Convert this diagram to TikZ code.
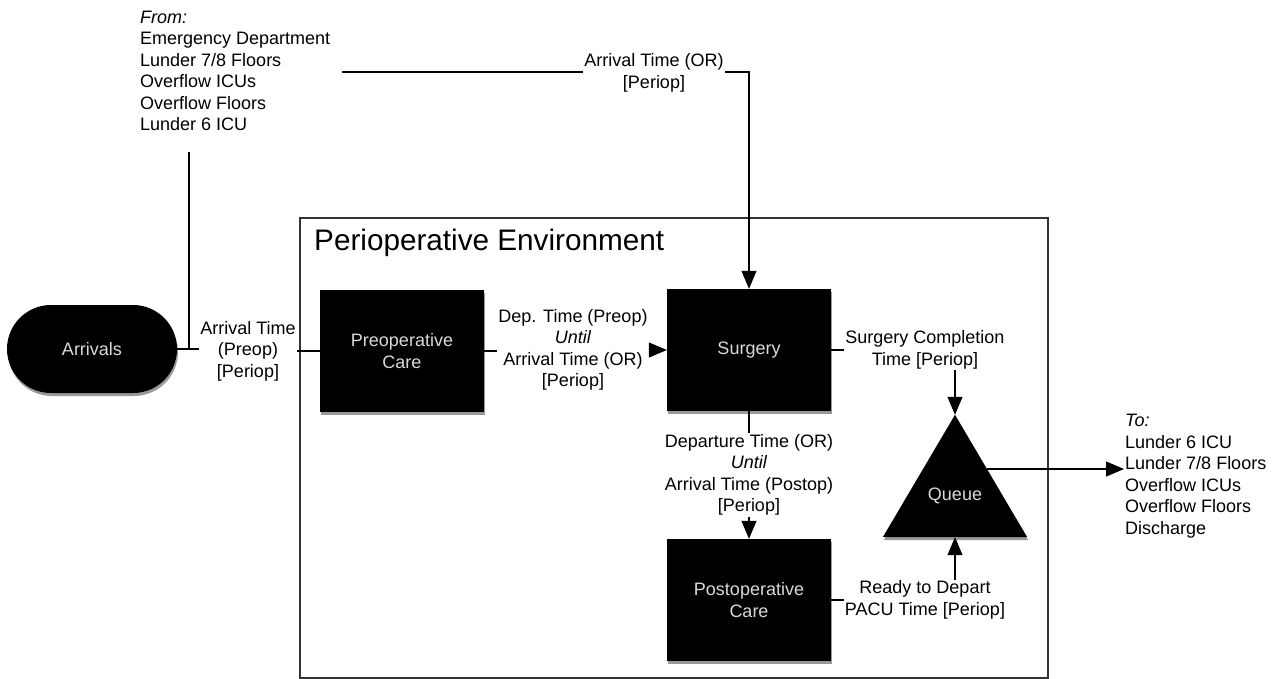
\documentclass[tikz,border=0pt]{standalone}
\usepackage{fontspec}
\setmainfont{Liberation Sans}
\usetikzlibrary{arrows.meta,shadows,calc}
\begin{document}
\begin{tikzpicture}[x=1pt,y=-1pt,
  lbl/.style={font=\fontsize{18}{21.5}\selectfont, align=center, inner sep=1pt},
  blk/.style={fill=black, text=white!85!black, minimum width=164pt, minimum height=122pt,
    font=\fontsize{18}{21.5}\selectfont, align=center,
    drop shadow={shadow xshift=1pt, shadow yshift=-3pt, fill=gray!80, opacity=1}},
  conn/.style={line width=1.1pt},
  arr/.style={conn, -{Triangle[length=18pt,width=15pt]}}]
\useasboundingbox (0,0) rectangle (1275,679);

% environment frame
\node[draw=black!80, line width=1.5pt, minimum width=748pt, minimum height=460pt, inner sep=0pt] (env) at (674,448) {};
\node[anchor=west, inner sep=0pt, font=\fontsize{29.7}{31}\selectfont] (envtitle) at (314,243) {Perioperative Environment};

% main blocks
\node[blk, rounded corners=44pt, minimum width=170pt, minimum height=88pt] (arrivals) at (92,349) {Arrivals};
\node[blk] (preop) at (402,351) {Preoperative\\Care};
\node[blk] (surgery) at (749,350) {Surgery};
\node[blk] (postop) at (749,600) {Postoperative\\Care};

% queue triangle
\node[minimum width=144pt, minimum height=122pt, inner sep=0pt] (queue) at (955,476) {};
\fill[gray!80] ($(queue.north)+(1,3)$) -- ($(queue.south east)+(1,3)$) -- ($(queue.south west)+(1,3)$) -- cycle;
\fill[black] (queue.north) -- (queue.south east) -- (queue.south west) -- cycle;
\node[text=white!85!black, font=\fontsize{18}{21.5}\selectfont] (queuetxt) at ($(queue.center)+(0,20)$) {Queue};

% lists
\node[lbl, align=left, anchor=west] (fromlist) at (139,71) {\textit{From:}\\Emergency Department\\Lunder 7/8 Floors\\Overflow ICUs\\Overflow Floors\\Lunder 6 ICU};
\node[lbl, align=left, anchor=west] (tolist) at (1124,476) {\textit{To:}\\Lunder 6 ICU\\Lunder 7/8 Floors\\Overflow ICUs\\Overflow Floors\\Discharge};

% labels
\node[lbl] (lblpre) at (248,351) {Arrival Time\\(Preop)\\{[Periop]}};
\node[lbl] (lbldep) at (573,350) {Dep. Time (Preop)\\\textit{Until}\\Arrival Time (OR)\\{[Periop]}};
\node[lbl] (lblor) at (654,73) {Arrival Time (OR)\\{[Periop]}};
\node[lbl] (lblsc) at (925,350) {Surgery Completion\\Time [Periop]};
\node[lbl] (lbldeparture) at (749,475) {Departure Time (OR)\\\textit{Until}\\Arrival Time (Postop)\\{[Periop]}};
\node[lbl] (lblready) at (925,600) {Ready to Depart\\PACU Time [Periop]};

% free ends
\coordinate (fromend) at (189,152);
\coordinate (orstart) at (342,72);
\coordinate (qright) at ($(queue.north)!0.443!(queue.south east)$);

% connectors
\draw[conn] (arrivals.east) -- (arrivals.east -| lblpre.west);
\draw[conn] (fromend) -- (fromend |- arrivals.east);
\draw[conn] (lblpre.east |- preop.west) -- (preop.west);
\draw[conn] (preop.east) -- (preop.east -| lbldep.west);
\draw[arr] (lbldep.east |- surgery.west) -- (surgery.west);
\draw[conn] (orstart) -- (orstart -| lblor.west);
\draw[arr] (lblor.east |- orstart) -| (surgery.north);
\draw[conn] (surgery.east) -- (surgery.east -| lblsc.west);
\draw[arr] (queue.north |- lblsc.south) -- (queue.north);
\draw[conn] (surgery.south) -- (surgery.south |- lbldeparture.north);
\draw[arr] (postop.north |- lbldeparture.south) -- (postop.north);
\draw[conn] (postop.east) -- (postop.east -| lblready.west);
\draw[arr] (queue.south |- lblready.north) -- (queue.south);
\draw[arr] (qright) -- (qright -| tolist.west);
\end{tikzpicture}
\end{document}
